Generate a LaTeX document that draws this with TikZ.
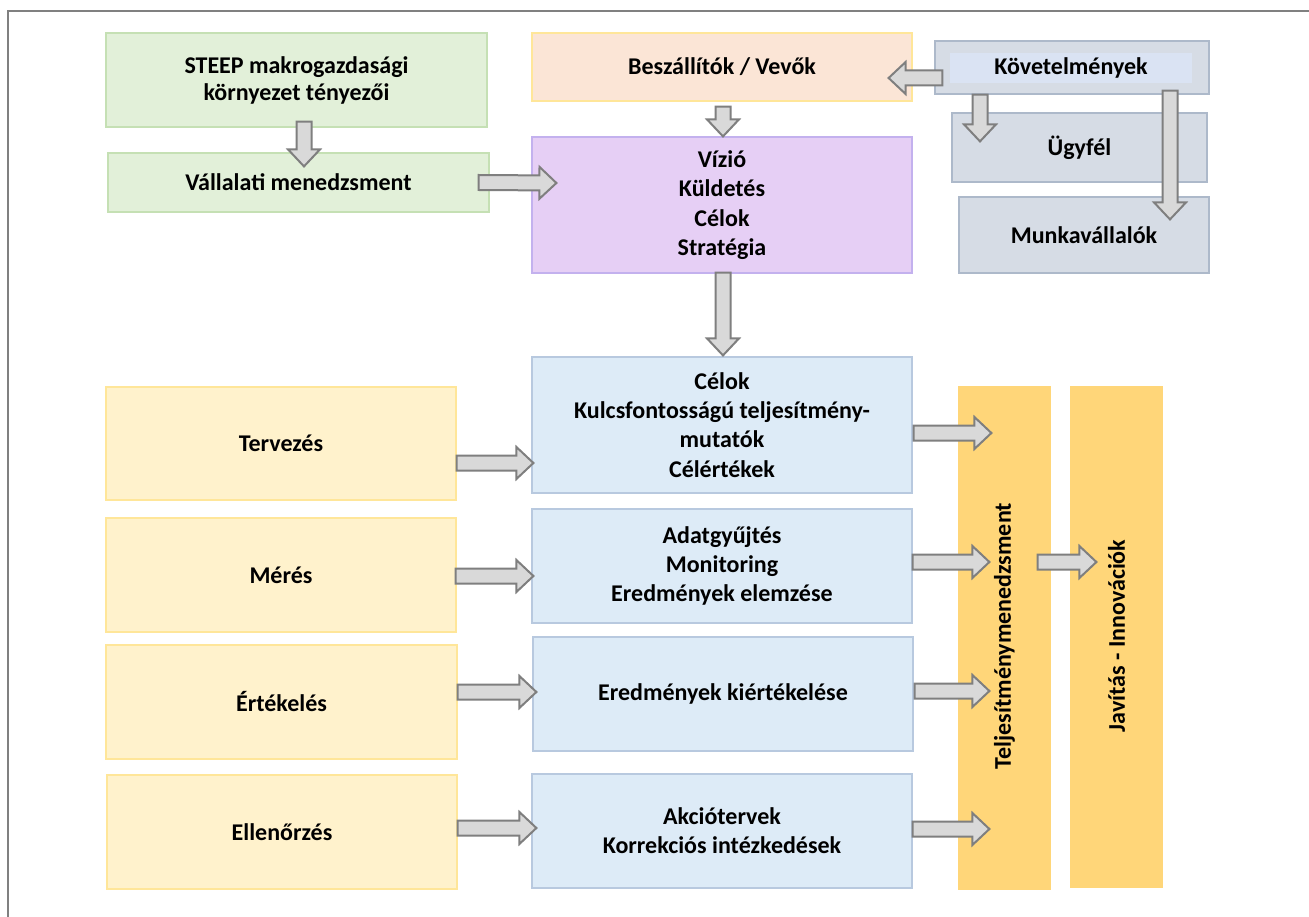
\documentclass[tikz,border=0pt]{standalone}
\usepackage{fontspec}
\setmainfont{Carlito}
\usetikzlibrary{calc}
\definecolor{frame}{HTML}{808080}
\definecolor{greenf}{HTML}{E2F0D9}
\definecolor{greend}{HTML}{C5E0B4}
\definecolor{peachf}{HTML}{FBE5D6}
\definecolor{peachd}{HTML}{FFE699}
\definecolor{grayf}{HTML}{D6DCE5}
\definecolor{grayd}{HTML}{ADB9CA}
\definecolor{innerf}{HTML}{DAE3F3}
\definecolor{lavf}{HTML}{E6CFF5}
\definecolor{lavd}{HTML}{C3B1EE}
\definecolor{bluef}{HTML}{DDEBF7}
\definecolor{blued}{HTML}{B8C9DF}
\definecolor{yelf}{HTML}{FFF2CC}
\definecolor{yeld}{HTML}{FFE699}
\definecolor{orf}{HTML}{FFD679}
\definecolor{arrf}{HTML}{D9D9D9}
\definecolor{arrd}{HTML}{7F7F7F}
\newcommand\blockarr[2]{%
\path[barr] let \p1=(#1), \p2=(#2), \n1={atan2(\y2-\y1,\x2-\x1)}, \n2={veclen(\x2-\x1,\y2-\y1)} in
 ($(\p1)+(\n1+90:7.5pt)$) -- ($(\p1)+(\n1:{(\n2-17)*1pt})+(\n1+90:7.5pt)$) -- ($(\p1)+(\n1:{(\n2-17)*1pt})+(\n1+90:16pt)$) -- (\p2) -- ($(\p1)+(\n1:{(\n2-17)*1pt})+(\n1-90:16pt)$) -- ($(\p1)+(\n1:{(\n2-17)*1pt})+(\n1-90:7.5pt)$) -- ($(\p1)+(\n1-90:7.5pt)$) -- cycle;}
\begin{document}
\begin{tikzpicture}[x=1pt,y=-1pt,
  box/.style={draw, line width=1.2pt, inner sep=0pt, align=center, font=\fontsize{24}{29.3}\selectfont\bfseries},
  greenbox/.style={box, fill=greenf, draw=greend},
  peachbox/.style={box, fill=peachf, draw=peachd},
  graybox/.style={box, fill=grayf, draw=grayd},
  lavbox/.style={box, fill=lavf, draw=lavd},
  bluebox/.style={box, fill=bluef, draw=blued},
  yelbox/.style={box, fill=yelf, draw=yeld},
  orbox/.style={box, fill=orf, draw=orf},
  barr/.style={draw=arrd, fill=arrf, line width=2pt, line join=miter},
  frameline/.style={draw=frame, line width=2pt}]
\useasboundingbox (0,0) rectangle (1309,917);
\fill[white] (0,0) rectangle (1309,917);
\coordinate (fbl) at (8,917);
\coordinate (ftl) at (8,11);
\coordinate (ftr) at (1309,11);
\draw[frameline] (fbl) -- (ftl) -- (ftr);
% top section
\node[greenbox, minimum width=381pt, minimum height=94pt, font=\fontsize{24}{27}\selectfont\bfseries] (steep) at (296.5,80) {STEEP makrogazdasági\\környezet tényezői};
\node[greenbox, minimum width=381pt, minimum height=59pt] (vall) at (298.5,182.5) {Vállalati menedzsment};
\node[peachbox, minimum width=380pt, minimum height=68pt] (besz) at (722,67) {Beszállítók / Vevők};
\node[graybox, minimum width=274pt, minimum height=53pt] (kovout) at (1072,67.5) {};
\node[box, draw=none, fill=innerf, minimum width=242pt, minimum height=30pt] (kovin) at (1071,68) {Követelmények};
\node[graybox, minimum width=255pt, minimum height=69pt] (ugyfel) at (1079.5,147.5) {Ügyfél};
\node[graybox, minimum width=250pt, minimum height=76pt] (munka) at (1084,235) {Munkavállalók};
\node[lavbox, minimum width=380pt, minimum height=136pt] (vizio) at (722,205) {Vízió\\Küldetés\\Célok\\Stratégia};
% lower section
\node[bluebox, minimum width=380pt, minimum height=136pt] (celok) at (722,425) {Célok\\Kulcsfontosságú teljesítmény-\\mutatók\\Célértékek};
\node[bluebox, minimum width=380pt, minimum height=114pt] (adat) at (722,566) {Adatgyűjtés\\Monitoring\\Eredmények elemzése};
\node[bluebox, minimum width=380pt, minimum height=114pt] (eredm) at (723,694) {Eredmények kiértékelése};
\node[bluebox, minimum width=380pt, minimum height=114pt] (akcio) at (722,831) {Akciótervek\\Korrekciós intézkedések};
\node[yelbox, minimum width=350pt, minimum height=113pt] (terv) at (281,443.5) {Tervezés};
\node[yelbox, minimum width=350pt, minimum height=114pt] (meres) at (281,575) {Mérés};
\node[yelbox, minimum width=351pt, minimum height=114pt] (ertek) at (281.5,702) {Értékelés};
\node[yelbox, minimum width=350pt, minimum height=114pt] (ellen) at (282,832) {Ellenőrzés};
\node[orbox, minimum width=91pt, minimum height=502pt] (telj) at (1004.5,638) {};
\node[box, draw=none, rotate=90] (teljtext) at (1004.5,636) {Teljesítménymenedzsment};
\node[orbox, minimum width=91pt, minimum height=500pt] (javit) at (1116.5,637) {};
\node[box, draw=none, rotate=90] (javittext) at (1116.5,636) {Javítás - Innovációk};
% arrows
\blockarr{[xshift=7.5pt,yshift=6pt]steep.south}{[xshift=5.5pt,yshift=-14pt]vall.north}
\blockarr{[xshift=-11pt]vall.east}{[xshift=25pt,yshift=22pt]vizio.west}
\blockarr{[xshift=1pt,yshift=-5pt]besz.south}{[xshift=1pt]vizio.north}
\blockarr{[xshift=8pt,yshift=-10.5pt]kovout.west}{[xshift=-24pt,yshift=-11pt]besz.east}
\blockarr{[xshift=-92pt]kovout.south}{[xshift=-99.5pt,yshift=-29pt]ugyfel.north}
\blockarr{[xshift=98pt,yshift=4pt]kovout.south}{[xshift=86pt,yshift=-23pt]munka.north}
\blockarr{[xshift=1pt,yshift=1pt]vizio.south}{[xshift=1pt,yshift=1pt]celok.north}
\blockarr{[xshift=1pt,yshift=-8pt]celok.east}{[xshift=33pt,yshift=205pt]telj.west}
\blockarr{[yshift=4pt]adat.east}{[xshift=31pt,yshift=76pt]telj.west}
\blockarr{[xshift=1pt,yshift=3pt]eredm.east}{[xshift=31pt,yshift=-53pt]telj.west}
\blockarr{[yshift=2pt]akcio.east}{[xshift=31pt,yshift=-191pt]telj.west}
\blockarr{[xshift=-13pt,yshift=76pt]telj.east}{[xshift=26pt,yshift=75pt]javit.west}
\blockarr{[yshift=-19.5pt]terv.east}{[xshift=2pt,yshift=-38pt]celok.west}
\blockarr{[xshift=-1pt,yshift=-1pt]meres.east}{[xshift=2pt,yshift=-10pt]adat.west}
\blockarr{[yshift=10pt]ertek.east}{[xshift=4pt,yshift=2pt]eredm.west}
\blockarr{[yshift=4pt]ellen.east}{[xshift=5pt,yshift=3pt]akcio.west}
\end{tikzpicture}
\end{document}
